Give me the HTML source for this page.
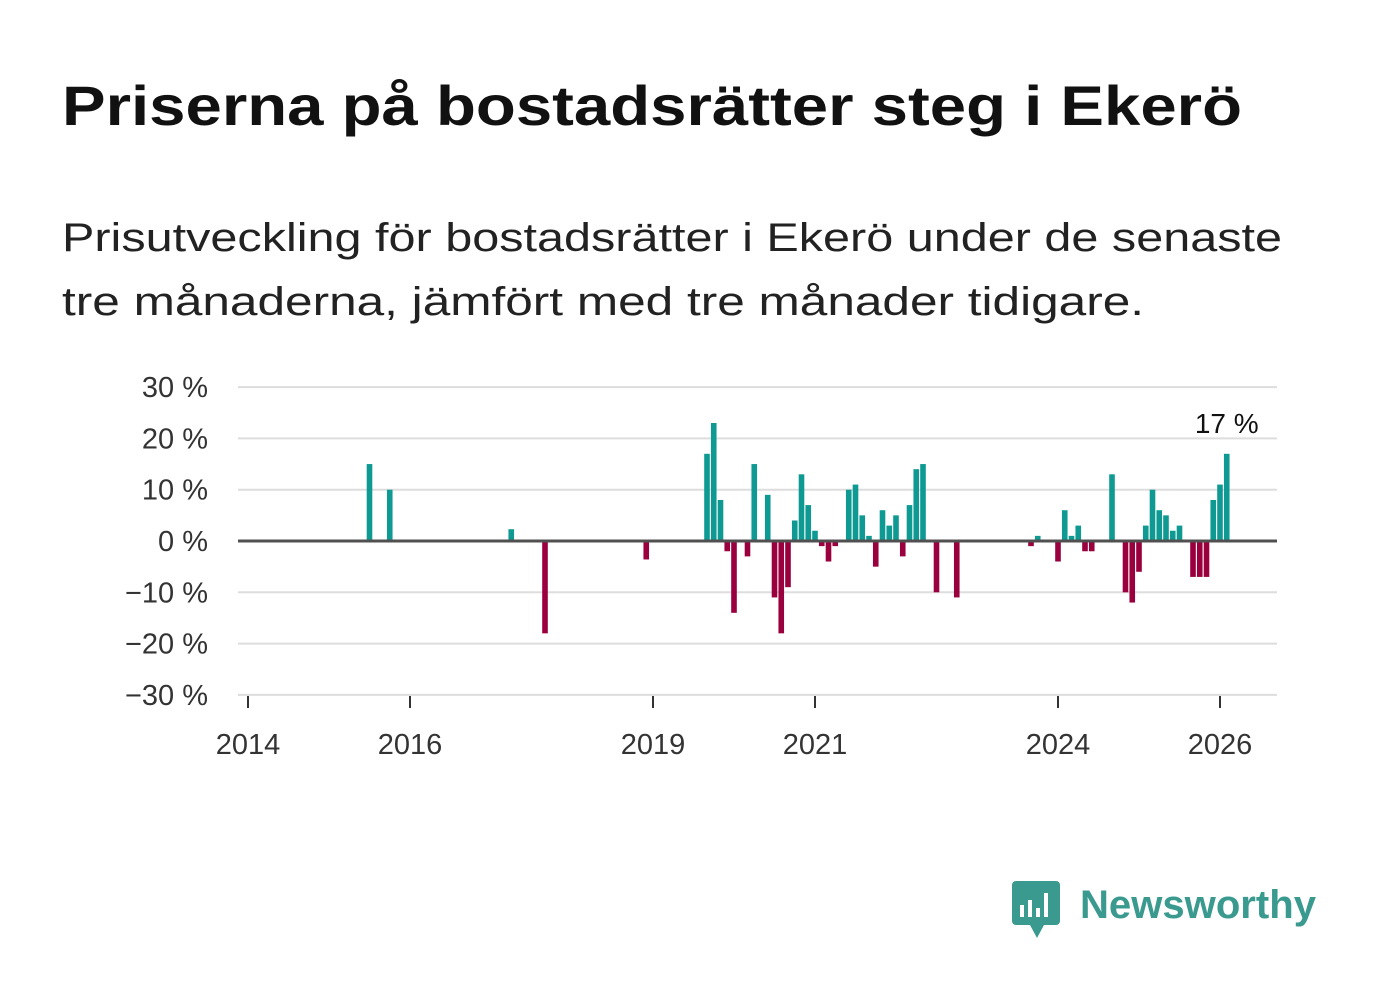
<!DOCTYPE html>
<html><head><meta charset="utf-8"><style>
html,body{margin:0;padding:0;background:#fff;}
body{width:1382px;height:999px;overflow:hidden;font-family:"Liberation Sans",sans-serif;}
</style></head><body>
<svg id="chart" width="1382" height="999" xmlns="http://www.w3.org/2000/svg" font-family="Liberation Sans, sans-serif">
<text x="62" y="125" font-size="56" font-weight="bold" fill="#111" textLength="1180" lengthAdjust="spacingAndGlyphs">Priserna på bostadsrätter steg i Ekerö</text>
<text x="62" y="251" font-size="40" fill="#222" textLength="1220" lengthAdjust="spacingAndGlyphs">Prisutveckling för bostadsrätter i Ekerö under de senaste</text>
<text x="62" y="315" font-size="40" fill="#222" textLength="1082" lengthAdjust="spacingAndGlyphs">tre månaderna, jämfört med tre månader tidigare.</text>
<g id="grid"></g><g id="bars"></g><g id="axes"></g>
<g>
<rect x="1012" y="881" width="48" height="44" rx="4" fill="#3a9a8f"/>
<polygon points="1030,925 1044,925 1037,938" fill="#3a9a8f"/>
<rect x="1020" y="905" width="4" height="12" fill="#fff"/><rect x="1028" y="900" width="4" height="17" fill="#fff"/><rect x="1036" y="908" width="4" height="9" fill="#fff"/><rect x="1044" y="893" width="4" height="24" fill="#fff"/>
<text x="1080" y="918" font-size="40" font-weight="bold" fill="#3a9a8f" textLength="236" lengthAdjust="spacingAndGlyphs">Newsworthy</text>
</g>
</svg>
<script>
const months=[18,21,39,44,59,68,69,70,71,72,74,75,77,78,79,80,81,82,83,84,85,86,87,89,90,91,92,93,94,95,96,97,98,99,100,102,105,116,117,120,121,122,123,124,125,128,130,131,132,133,134,135,136,137,138,140,141,142,143,144,145];
const values=[15,10,2.3,-18,-3.6,17,23,8,-2,-14,-3,15,9,-11,-18,-9,4,13,7,2,-1,-4,-1,10,11,5,1,-5,6,3,5,-3,7,14,15,-10,-11,-1,1,-4,6,1,3,-2,-2,13,-10,-12,-6,3,10,6,5,2,3,-7,-7,-7,8,11,17];
const yTicks=[30,20,10,0,-10,-20,-30];
const yearTicks=[2014,2016,2019,2021,2024,2026];
const ns="http://www.w3.org/2000/svg";
const x=m=>248+m*6.75;
const y=v=>541-v*5.13;
const yr=t=>x((t-2014)*12);
function mk(tag,attrs,parent,txt){const e=document.createElementNS(ns,tag);for(const k in attrs)e.setAttribute(k,attrs[k]);if(txt!==undefined)e.textContent=txt;document.getElementById(parent).appendChild(e);return e;}
yTicks.forEach(t=>{
 const l=mk('line',{x1:238,x2:1277,y1:y(t),y2:y(t),stroke:'#ddd','stroke-width':2},'grid');
 
 
 const s=(t<0?'\u2212'+(-t):t)+' %';
 const tx=mk('text',{x:208,y:y(t)+10,'font-size':29,fill:'#333','text-anchor':'end'},'axes',s);
 
 
});
months.forEach((m,i)=>{
 const v=values[i];
 const r=mk('rect',{x:x(m)-2.8,width:5.6,y:v>=0?y(v):y(0),height:Math.abs(y(v)-y(0)),fill:v>=0?'#0e9a92':'#99003d'},'bars');
 
 
});
const z=mk('line',{x1:238,x2:1277,y1:y(0),y2:y(0),stroke:'#505050','stroke-width':3},'axes');


const xa=mk('line',{x1:238,x2:1277,y1:695,y2:695,stroke:'#ddd','stroke-width':1},'axes');


yearTicks.forEach(t=>{
 const tk=mk('line',{x1:yr(t),x2:yr(t),y1:696,y2:708,stroke:'#333','stroke-width':2},'axes');
 
 
 const tl=mk('text',{x:yr(t),y:754,'font-size':29,fill:'#333','text-anchor':'middle'},'axes',String(t));
 
 
});
const li=months.length-1;
const lab=mk('text',{x:x(months[li]),y:433,'font-size':28,fill:'#111','text-anchor':'middle',stroke:'#fff','stroke-width':4,'paint-order':'stroke'},'axes',Math.round(values[li])+' %');


</script>
</body></html>
